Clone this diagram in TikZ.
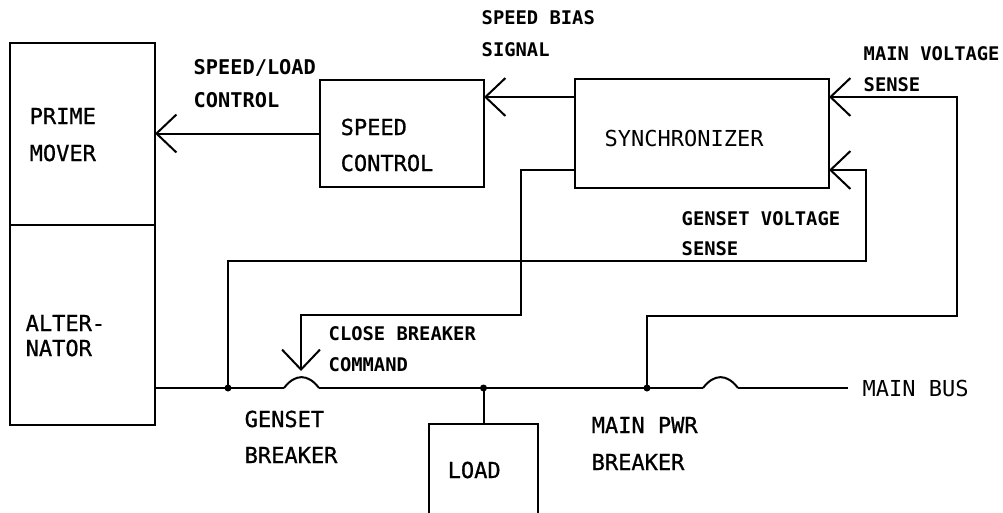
\documentclass[tikz,border=0pt]{standalone}
\usepackage{fontspec}
\setmainfont{DejaVu Sans Mono}
\newfontface\medfont[FakeBold=0.8]{DejaVu Sans Mono}
\usetikzlibrary{arrows.meta}
\begin{document}
\begin{tikzpicture}[x=1pt,y=-1pt,
  wire/.style={line width=2pt, line join=miter},
  box/.style={draw, line width=2pt, rectangle, inner sep=0pt, outer sep=0pt},
  arr/.style={wire, -{Straight Barb[length=20pt,width=38pt,line width=2pt]}},
  lbls/.style={anchor=base west, inner sep=0pt, font=\bfseries\fontsize{18.8}{20}\selectfont},
  lblm/.style={anchor=base west, inner sep=0pt, font=\bfseries\fontsize{20.3}{22}\selectfont},
  lbll/.style={anchor=base west, inner sep=0pt, font=\medfont\fontsize{22}{24}\selectfont},
  lblt/.style={anchor=base west, inner sep=0pt, font=\fontsize{22}{24}\selectfont},
  dot/.style={fill=black}]
\clip (0,0) rectangle (1003,512);
\fill[white] (0,0) rectangle (1003,512);
% boxes
\node[box, minimum width=145pt, minimum height=182pt] (prime) at (82.5,134) {};
\node[box, minimum width=145pt, minimum height=200pt] (alt) at (82.5,325) {};
\node[box, minimum width=164pt, minimum height=107pt] (speedctl) at (402,133.5) {};
\node[box, minimum width=254pt, minimum height=109pt] (sync) at (702,133.5) {};
\node[box, minimum width=109pt, minimum height=130pt] (load) at (483.5,489) {};
% coordinates
\coordinate (gj) at (228,388);
\coordinate (lj) at (483.5,388);
\coordinate (mj) at (647,388);
\coordinate (gbL) at (284,388);
\coordinate (gbR) at (319,388);
\coordinate (mbL) at (703,388);
\coordinate (mbR) at (738,388);
\coordinate (busend) at (848,388);
\path (sync.north west) ++(0,18) coordinate (sbin);
\path (sync.north east) ++(0,18) coordinate (mvin);
\path (sync.south east) ++(0,-18) coordinate (gsin);
\path (sync.south west) ++(0,-18) coordinate (cbout);
\coordinate (gsc) at (866,261);
\coordinate (mvc) at (957,316);
\coordinate (cbc) at (521,315);
\coordinate (cbtip) at (301,371);
% bus
\draw[wire] (alt.east |- gj) -- (gbL);
\draw[wire] (gbL) .. controls (295,373.5) and (308,373.5) .. (gbR);
\draw[wire] (gbR) -- (mbL);
\draw[wire] (mbL) .. controls (714,373.5) and (727,373.5) .. (mbR);
\draw[wire] (mbR) -- (busend);
\draw[wire] (lj) -- (load.north);
% signals
\draw[arr] (speedctl.west) -- (speedctl.west -| prime.east);
\draw[arr] (sbin) -- (sbin -| speedctl.east);
\draw[arr] (mj) |- (mvc) |- (mvin);
\draw[arr] (gj) |- (gsc) |- (gsin);
\draw[arr] (cbout) -| (cbc) -| (cbtip);
% dots
\fill[dot] (gj) circle (3.5);
\fill[dot] (lj) circle (3.5);
\fill[dot] (mj) circle (3.5);
% labels
\node[lbls] (t1) at (481.5,24.9) {SPEED BIAS};
\node[lbls] (t2) at (481.5,56.9) {SIGNAL};
\node[lblm] (t3) at (193.5,74.4) {SPEED/LOAD};
\node[lblm] (t4) at (193.5,107.4) {CONTROL};
\node[lbls] (t5) at (863.5,60.9) {MAIN VOLTAGE};
\node[lbls] (t6) at (863.5,91.9) {SENSE};
\node[lbll] (t7) at (29.5,124) {PRIME};
\node[lbll] (t8) at (29.5,161) {MOVER};
\node[lbll] (t9) at (340.5,135) {SPEED};
\node[lbll] (t10) at (340.5,171) {CONTROL};
\node[lblt] (t11) at (604.5,146) {SYNCHRONIZER};
\node[lbls] (t12) at (681.5,225.9) {GENSET VOLTAGE};
\node[lbls] (t13) at (681.5,255.9) {SENSE};
\node[lbll] (t14) at (25.5,331) {ALTER-};
\node[lbll] (t15) at (25.5,356) {NATOR};
\node[lbls] (t16) at (328.5,340.9) {CLOSE BREAKER};
\node[lbls] (t17) at (328.5,371.9) {COMMAND};
\node[lblt] (t18) at (862.5,396) {MAIN BUS};
\node[lbll] (t19) at (244.5,427) {GENSET};
\node[lbll] (t20) at (244.5,463) {BREAKER};
\node[lbll] (t21) at (591.5,433) {MAIN PWR};
\node[lbll] (t22) at (591.5,470) {BREAKER};
\node[lbll] (t23) at (447.5,478) {LOAD};
\end{tikzpicture}
\end{document}
